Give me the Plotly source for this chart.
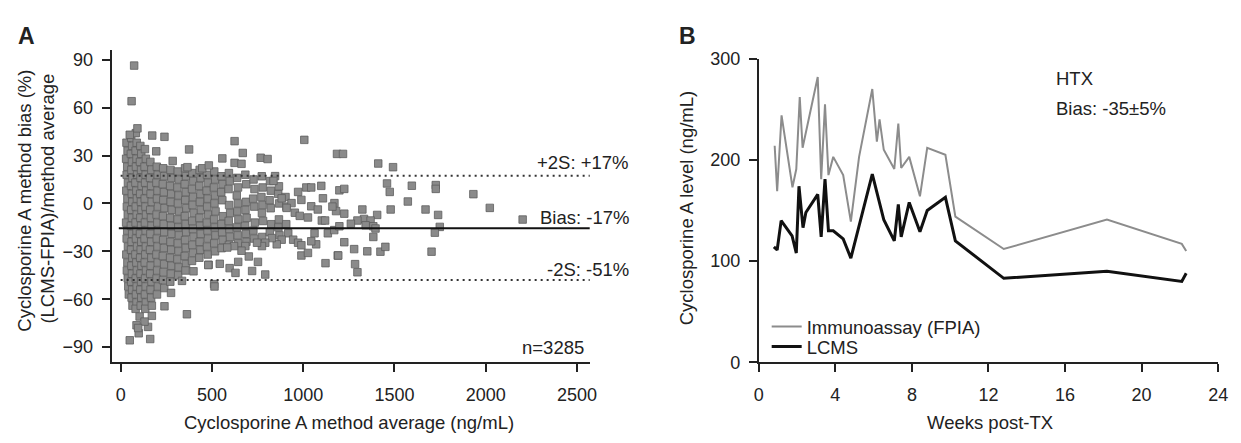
import plotly.graph_objects as go

# ---------------- Panel A: Bland-Altman style data ----------------
# (method average ng/mL, method bias %) pairs
cloud_low = [
    (32,38),(38,33),(30,28),(36,23),(33,18),(40,13),(31,8),(37,3),(34,-2),(39,-7),(30,-12),(36,-17),(33,-22),(40,-27),(31,-32),(37,-37),(34,-42),(39,-47),(42,-52),(45,-57),
    (58,41),(63,36),(56,31),(62,26),(59,21),(65,16),(57,11),(61,6),(64,1),(58,-4),(62,-9),(56,-14),(63,-19),(60,-24),(57,-29),(64,-34),(59,-39),(62,-44),(58,-49),(63,-54),(60,-59),(65,-64),
    (83,44),(88,38),(82,33),(87,28),(84,23),(90,18),(81,13),(86,8),(89,3),(83,-2),(88,-7),(82,-12),(87,-17),(84,-22),(90,-27),(81,-32),(86,-37),(89,-42),(83,-47),(88,-52),(84,-57),(87,-62),(82,-66),
    (108,36),(113,31),(106,26),(112,21),(109,16),(115,11),(107,6),(111,1),(114,-4),(108,-9),(112,-14),(106,-19),(113,-24),(110,-29),(107,-34),(114,-39),(109,-44),(112,-49),(108,-54),(113,-59),(110,-64),
    (133,34),(138,28),(131,23),(137,18),(134,13),(140,8),(132,3),(136,-2),(139,-7),(133,-12),(137,-17),(131,-22),(138,-27),(135,-32),(132,-37),(139,-42),(134,-47),(137,-52),(133,-57),(138,-62),(135,-66),
    (163,26),(168,21),(161,16),(167,11),(164,6),(170,1),(162,-4),(166,-9),(169,-14),(163,-19),(167,-24),(161,-29),(168,-34),(165,-39),(162,-44),(169,-49),(164,-54),(167,-59),(171,-64),
]
cloud_mid = [
    (198,23),(203,18),(196,13),(202,8),(199,3),(205,-2),(197,-7),(201,-12),(204,-17),(198,-22),(202,-27),(196,-32),(203,-37),(200,-42),(197,-47),(204,-52),(199,-57),
    (233,22),(238,17),(231,12),(237,7),(234,2),(240,-3),(232,-8),(236,-13),(239,-18),(233,-23),(237,-28),(231,-33),(238,-38),(235,-43),(232,-48),(239,-53),
    (273,21),(278,16),(271,11),(277,6),(274,1),(280,-4),(272,-9),(276,-14),(279,-19),(273,-24),(277,-29),(271,-34),(278,-39),(275,-44),(272,-49),(276,-56),
    (313,20),(318,15),(311,10),(317,5),(314,0),(320,-5),(312,-10),(316,-15),(319,-20),(313,-25),(317,-30),(311,-35),(318,-40),(315,-45),
    (353,22),(358,17),(351,12),(357,7),(354,2),(360,-3),(352,-8),(356,-13),(359,-18),(353,-23),(357,-28),(351,-33),(358,-38),(355,-42),
    (393,19),(398,14),(391,9),(397,4),(394,-1),(400,-6),(392,-11),(396,-16),(399,-21),(393,-26),(397,-31),(391,-36),
    (433,21),(438,16),(431,11),(437,6),(434,1),(440,-4),(432,-9),(436,-14),(439,-19),(433,-24),(437,-29),(431,-34),
]
cloud_high = [
    (473,18),(478,13),(471,8),(477,3),(474,-2),(480,-7),(472,-12),(476,-17),(479,-22),(473,-27),(477,-32),
    (513,20),(518,15),(511,10),(517,5),(514,0),(520,-5),(512,-10),(516,-15),(519,-20),(513,-25),(517,-30),
    (553,17),(558,12),(551,7),(557,2),(560,-8),(552,-13),(556,-18),(559,-23),(553,-28),
    (593,19),(598,14),(591,9),(594,-1),(600,-6),(592,-11),(596,-16),(599,-21),(593,-26),
    (638,16),(643,10),(636,5),(642,0),(639,-5),(645,-10),(637,-15),(641,-20),(644,-25),
    (683,18),(688,12),(687,1),(684,-4),(690,-9),(682,-14),(686,-19),(689,-24),
    (728,15),(733,9),(726,3),(732,-2),(735,-12),(727,-17),(731,-22),
    (773,17),(778,10),(771,4),(777,-1),(774,-6),(780,-11),(776,-21),
    (818,14),(823,8),(816,2),(822,-3),(825,-13),(817,-18),
    (863,6),(868,0),(867,-10),(864,-15),(870,-20),
    (903,4),(908,-2),(907,-13),
]
scattered = [
    (74,86.3),(60,64),(92,47),(50,43),(173,42.5),(240,41.7),(195,32.6),(375,33.8),(285,26.6),(366,22.7),(447,22),(483,23.8),
    (624,39),(669,31.6),(557,28.2),(767,28.6),(805,27.8),(624,25.4),(662,24.8),(1006,39.8),
    (482,-38.4),(543,-37.8),(597,-40.5),(629,-43.5),(644,-36.6),(720,-42.3),(752,-36.6),(792,-44.5),(512,-50.5),
    (990,-32.6),(1026,-31),(1122,-37.4),(1189,-32.6),(702,-33.2),
    (1017,10),(1099,11),(1108,3.2),(1198,8.2),(972,7.2),(990,2.2),(1044,-1.8),(1080,-3.8),(1102,-10.7),(1120,-10.7),
    (936,0.2),(954,-5.8),(981,-7.8),(1026,-8.8),(909,-2.8),(882,3.2),(867,10.7),(846,17.1),(837,14.1),(1044,10),
    (918,-18.7),(945,-22.7),(972,-24.6),(1062,-18.7),(1071,-25.6),(1044,-23.7),(990,-26.2),(882,-22.7),(855,-25.6),
    (828,-21.7),(792,-24.6),(774,-26.7),(747,-24.6),(683,-26.7),(662,-29.6),(621,-26.7),(584,-27.6),(1135,-18.7),(1170,-16.7),
    (1185,31),(1218,31),(1411,25),(1492,22.7),(1225,9.1),(1459,12.5),(1474,7.2),(1595,11.1),(1726,11.5),(1726,9.1),
    (1932,5.8),(2022,-2.8),(1573,1.2),(1479,-3.8),(1670,-3.8),(1739,-7.2),(1748,-14.7),(1721,-18.3),(1225,-24.3),
    (1384,-21),(1279,-28.6),(1351,-30),(1423,-30.2),(1450,-27.2),(1192,-32.6),(1284,-38),(1297,-43.1),(1703,-30.2),
    (1324,-3.8),(1405,-7.2),(1333,-9.7),(1297,-10.7),(1261,-12.7),(1369,-10.7),(1342,-13.7),(1384,-14.3),(1396,-15.7),
    (1198,-14.3),(1171,0.2),(1180,-4.8),(1225,-6.4),(1160,-2),(2202,-10.1),
    (104,-70.8),(171,-70.4),(87,-76.3),(150,-77.3),(99,-81.3),(50,-85.7),(162,-84.9),(240,-64.4),(363,-69.4),
    (399,-42.5),(336,-48.5),(480,-38.6),(514,-52),(131,-74),(96,-78),
]
bias_levels = {"upper": 17.3, "mean": -15.5, "lower": -48.0}   # drawn line positions (%)
x_ticks_A = [0, 500, 1000, 1500, 2000, 2500]
y_ticks_A = [-90, -60, -30, 0, 30, 60, 90]

# ---------------- Panel B: time course ----------------
weeks_fpia = [0.83, 0.96, 1.19, 1.76, 1.96, 2.14, 2.29, 3.08, 3.26, 3.46, 3.64, 3.89, 4.41, 4.81, 5.24, 5.93,
              6.17, 6.31, 6.53, 7.08, 7.29, 7.44, 7.86, 8.42, 8.80, 9.75, 10.27, 12.80, 18.19, 22.10, 22.33]
fpia = [214, 169, 244, 173, 191, 262, 212, 282, 181, 255, 185, 203, 185, 139, 203, 270,
        218, 240, 210, 191, 236, 192, 203, 164, 212, 205, 144, 112, 141, 117, 110]
weeks_lcms = [0.79, 0.96, 1.17, 1.74, 1.96, 2.10, 2.31, 2.46, 3.08, 3.26, 3.46, 3.64, 3.89, 4.41, 4.81, 5.93,
              6.53, 7.08, 7.29, 7.44, 7.86, 8.42, 8.80, 9.75, 10.27, 12.80, 18.19, 22.10, 22.33]
lcms = [114, 111, 140, 125, 108, 174, 133, 148, 166, 124, 181, 130, 130, 122, 103, 186,
        141, 120, 156, 124, 158, 129, 150, 163, 120, 83, 90, 80, 88]
x_ticks_B = [0, 4, 8, 12, 16, 20, 24]
y_ticks_B = [0, 100, 200, 300]

# ---------------- Figure ----------------
W, H = 1241, 443
def px(x):
    return x / W
def py(y):
    return 1 - y / H

FONT = "Liberation Sans, Arial, Helvetica, sans-serif"
INK = "#222222"
TXT = 18.5

pts = cloud_low + cloud_mid + cloud_high + scattered
avg = [p[0] for p in pts]
bias = [p[1] for p in pts]

fig = go.Figure()
fig.add_trace(go.Scatter(
    x=avg, y=bias, mode="markers", showlegend=False, xaxis="x", yaxis="y",
    marker=dict(symbol="square", size=7.5, color="#8a8a8a", line=dict(color="#5e5e5e", width=0.8)),
))
fig.add_trace(go.Scatter(
    x=weeks_fpia, y=fpia, mode="lines", name="Immunoassay (FPIA)", xaxis="x2", yaxis="y2",
    line=dict(color="#8c8c8c", width=2), legend="legend",
))
fig.add_trace(go.Scatter(
    x=weeks_lcms, y=lcms, mode="lines", name="LCMS", xaxis="x2", yaxis="y2",
    line=dict(color="#111111", width=3), legend="legend2",
))

axis_common = dict(
    showline=True, linewidth=2, linecolor=INK, ticks="outside", ticklen=8, tickwidth=2,
    tickcolor=INK, showgrid=False, zeroline=False, tickfont=dict(family=FONT, size=18, color=INK),
)
xstand = 7
ystand = 5

legend_common = dict(xanchor="left", yanchor="middle", bgcolor="rgba(0,0,0,0)",
                     font=dict(family=FONT, size=TXT, color=INK), itemwidth=30)

fig.update_layout(
    width=W, height=H, margin=dict(l=0, r=0, t=0, b=0),
    paper_bgcolor="white", plot_bgcolor="white",
    font=dict(family=FONT, color=INK),
    xaxis=dict(axis_common, domain=[px(108), px(592)], range=[-49, 2570], tickvals=x_ticks_A,
               anchor="y", ticklabelstandoff=xstand),
    yaxis=dict(axis_common, domain=[py(369), py(42)], range=[-99.5, 96], tickvals=y_ticks_A,
               anchor="x", ticklabelstandoff=ystand),
    xaxis2=dict(axis_common, domain=[px(763), px(1228)], range=[0, 24], tickvals=x_ticks_B,
                anchor="y2", ticklabelstandoff=xstand),
    yaxis2=dict(axis_common, domain=[py(369), py(51)], range=[0, 300], tickvals=y_ticks_B,
                anchor="x2", ticklabelstandoff=ystand),
    legend=dict(legend_common, x=px(771), y=py(332)),
    legend2=dict(legend_common, x=px(771), y=py(353)),
)

for key, dash in (("upper", "2px,4px"), ("mean", "solid"), ("lower", "2px,4px")):
    fig.add_shape(type="line", xref="x", yref="y", x0=-10 if key == "mean" else 0, x1=2570,
                  y0=bias_levels[key], y1=bias_levels[key],
                  line=dict(color="#333333" if dash != "solid" else "#111111", width=2, dash=dash))

def ann(text, x, y, size=TXT, xanchor="center", angle=0, bold=False):
    fig.add_annotation(text=f"<b>{text}</b>" if bold else text, xref="paper", yref="paper",
                       x=px(x), y=py(y), xanchor=xanchor, yanchor="middle", showarrow=False,
                       textangle=angle, font=dict(family=FONT, size=size, color=INK))

ann("A", 22, 27, size=23, bold=True)
ann("B", 691, 27, size=23, bold=True)
ann("Cyclosporine A method average (ng/mL)", 348, 432)
ann("Weeks post-TX", 997, 432)
ann("Cyclosporine A method bias (%)", 20, 200, angle=-90)
ann("(LCMS-FPIA)/method average", 43, 197, angle=-90)
ann("Cyclosporine A level (ng/mL)", 690, 208, angle=-90)
ann("+2S: +17%", 634, 160, xanchor="right")
ann("Bias: -17%", 634, 217, xanchor="right")
ann("-2S: -51%", 634, 272, xanchor="right")
ann("n=3285", 588, 353, xanchor="right")
ann("HTX", 1062, 72, xanchor="left")
ann("Bias: -35±5%", 1062, 103, xanchor="left")

# page body without the browser's default margin, so the figure fills the window exactly
fig.write_html("out.html",
               post_script="document.body.style.margin='0';document.body.style.overflow='hidden';")
